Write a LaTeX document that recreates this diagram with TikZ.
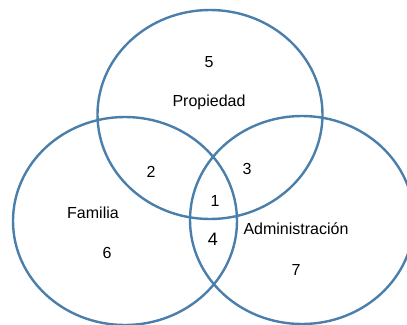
\documentclass[tikz,border=0pt]{standalone}
\usepackage{fontspec}
\setmainfont{Liberation Sans}
\definecolor{ring}{HTML}{4A7EAB}
\begin{document}
\begin{tikzpicture}[x=1pt,y=-1pt,
  ringline/.style={draw=ring,line width=2.4pt},
  lbl/.style={font=\fontsize{16}{18}\selectfont,inner sep=0pt}]
\useasboundingbox (0,0) rectangle (407,324);
\draw[ringline] (210,114.5) ellipse [x radius=112.5, y radius=104.5];
\draw[ringline] (125,221) ellipse [x radius=112, y radius=104];
\draw[ringline] (302,220) ellipse [x radius=112, y radius=104];
\node[lbl] (n5) at (209,62) {5};
\node[lbl] (prop) at (209,102) {Propiedad};
\node[lbl] (n2) at (151,172) {2};
\node[lbl] (n3) at (247,169) {3};
\node[lbl] (n1) at (215,201) {1};
\node[lbl] (fam) at (93,213) {Familia};
\node[lbl,font=\fontsize{18}{20}\selectfont] (n4) at (213,239) {4};
\node[lbl] (n6) at (107,253) {6};
\node[lbl] (adm) at (296,229) {Administración};
\node[lbl] (n7) at (296,270) {7};
\end{tikzpicture}
\end{document}
